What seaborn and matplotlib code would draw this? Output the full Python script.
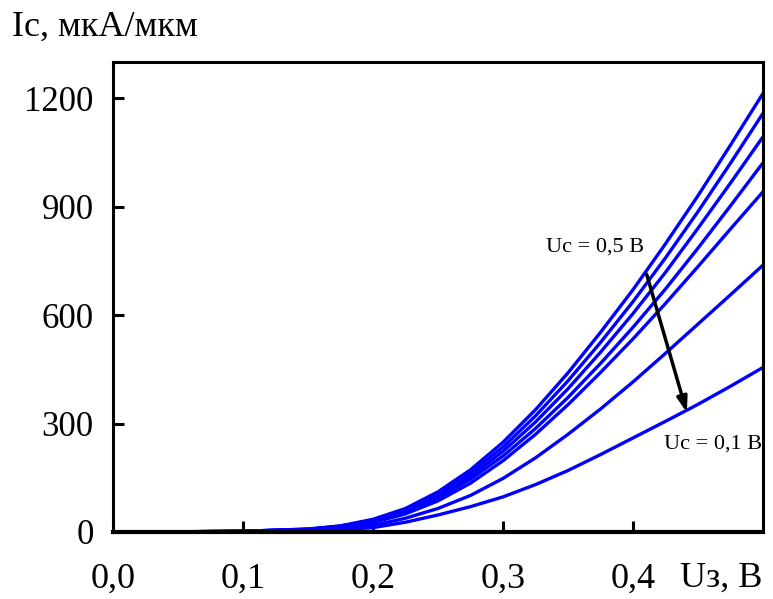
import numpy as np
import pandas as pd
import matplotlib
matplotlib.use("Agg")
import matplotlib.pyplot as plt
import seaborn as sns

# gate voltage, V
u_gate = [0, 0.05, 0.1, 0.15, 0.175, 0.2, 0.225, 0.25, 0.275, 0.3,
          0.325, 0.35, 0.375, 0.4, 0.425, 0.45, 0.475, 0.5]

# drain current, uA/um, one list per drain voltage
ic_05 = [0, 0.5, 2, 8, 17, 35, 65, 111, 172, 248, 338, 440, 552, 670, 797, 930, 1070, 1213]
ic_045 = [0, 0.5, 2, 8, 16, 33, 62, 105, 163, 235, 321, 418, 524, 637, 758, 886, 1020, 1158]
ic_04 = [0, 0.5, 2, 7, 15, 31, 58, 99, 154, 223, 304, 396, 497, 604, 718, 840, 965, 1093]
ic_035 = [0, 0.5, 2, 7, 14, 29, 55, 94, 146, 210, 286, 372, 466, 566, 672, 785, 902, 1021]
ic_03 = [0, 0.4, 1.5, 6, 13, 26, 50, 86, 135, 197, 270, 352, 441, 534, 632, 734, 838, 941]
ic_02 = [0, 0.4, 1.5, 4, 9, 18, 38, 65, 101, 148, 205, 270, 340, 415, 494, 575, 656, 738]
ic_01 = [0, 0.3, 1, 3, 6, 12, 27, 47, 70, 97, 131, 170, 214, 260, 306, 353, 403, 455]

u_drain = ["0.5", "0.45", "0.4", "0.35", "0.3", "0.2", "0.1"]
curves = [ic_05, ic_045, ic_04, ic_035, ic_03, ic_02, ic_01]

x_ticks = [0, 0.1, 0.2, 0.3, 0.4]
x_tick_labels = ["0,0", "0,1", "0,2", "0,3", "0,4"]
y_ticks = [0, 300, 600, 900, 1200]

frames = []
for ud, ic in zip(u_drain, curves):
    frames.append(pd.DataFrame({"Uz": u_gate, "Ic": ic, "Uc": ud}))
df = pd.concat(frames, ignore_index=True)

sns.set_style("ticks")
plt.rcParams["font.family"] = ["Liberation Serif", "DejaVu Serif"]
plt.rcParams["text.color"] = "black"

fig = plt.figure(figsize=(7.73, 5.99), dpi=100)
ax = fig.add_axes([0.1462, 0.1119, 0.8408, 0.7846])

sns.lineplot(data=df, x="Uz", y="Ic", hue="Uc", hue_order=u_drain,
             palette=["#0000ff"] * len(u_drain), linewidth=2.4,
             legend=False, ax=ax)

ax.set_xlim(0, 0.5)
ax.set_ylim(0, 1300)
ax.set_xticks(x_ticks)
ax.set_xticklabels(x_tick_labels)
ax.set_yticks(y_ticks)
ax.set_xlabel("")
ax.set_ylabel("")

for side in ["left", "right", "top", "bottom"]:
    ax.spines[side].set_visible(True)
    ax.spines[side].set_linewidth(2.2)
    ax.spines[side].set_color("black")
ax.spines["bottom"].set_linewidth(3)

ax.tick_params(axis="both", direction="in", length=8, width=2.2,
               colors="black", labelcolor="black")
ax.tick_params(axis="y", pad=14, labelsize=25)
ax.tick_params(axis="x", pad=22, labelsize=26)

fig.text(0.015, 0.955, "Ic, мкА/мкм", fontsize=26, ha="left", va="center",
         color="black")
ax.text(0.999, -0.098, "Uз, В", transform=ax.transAxes, fontsize=26,
        ha="right", va="center", color="black")

ax.text(0.3708, 788, "Uc = 0,5 В", fontsize=16, ha="center", va="center",
        color="black")
ax.text(0.4995, 243, "Uc = 0,1 В", fontsize=16, ha="right", va="center",
        color="black")

ax.annotate("", xy=(0.4415, 330), xytext=(0.4105, 713),
            arrowprops=dict(arrowstyle="-|>,head_length=0.9,head_width=0.3",
                            color="black", lw=2.5, shrinkA=0, shrinkB=0))

fig.savefig("out.png", dpi=100)
